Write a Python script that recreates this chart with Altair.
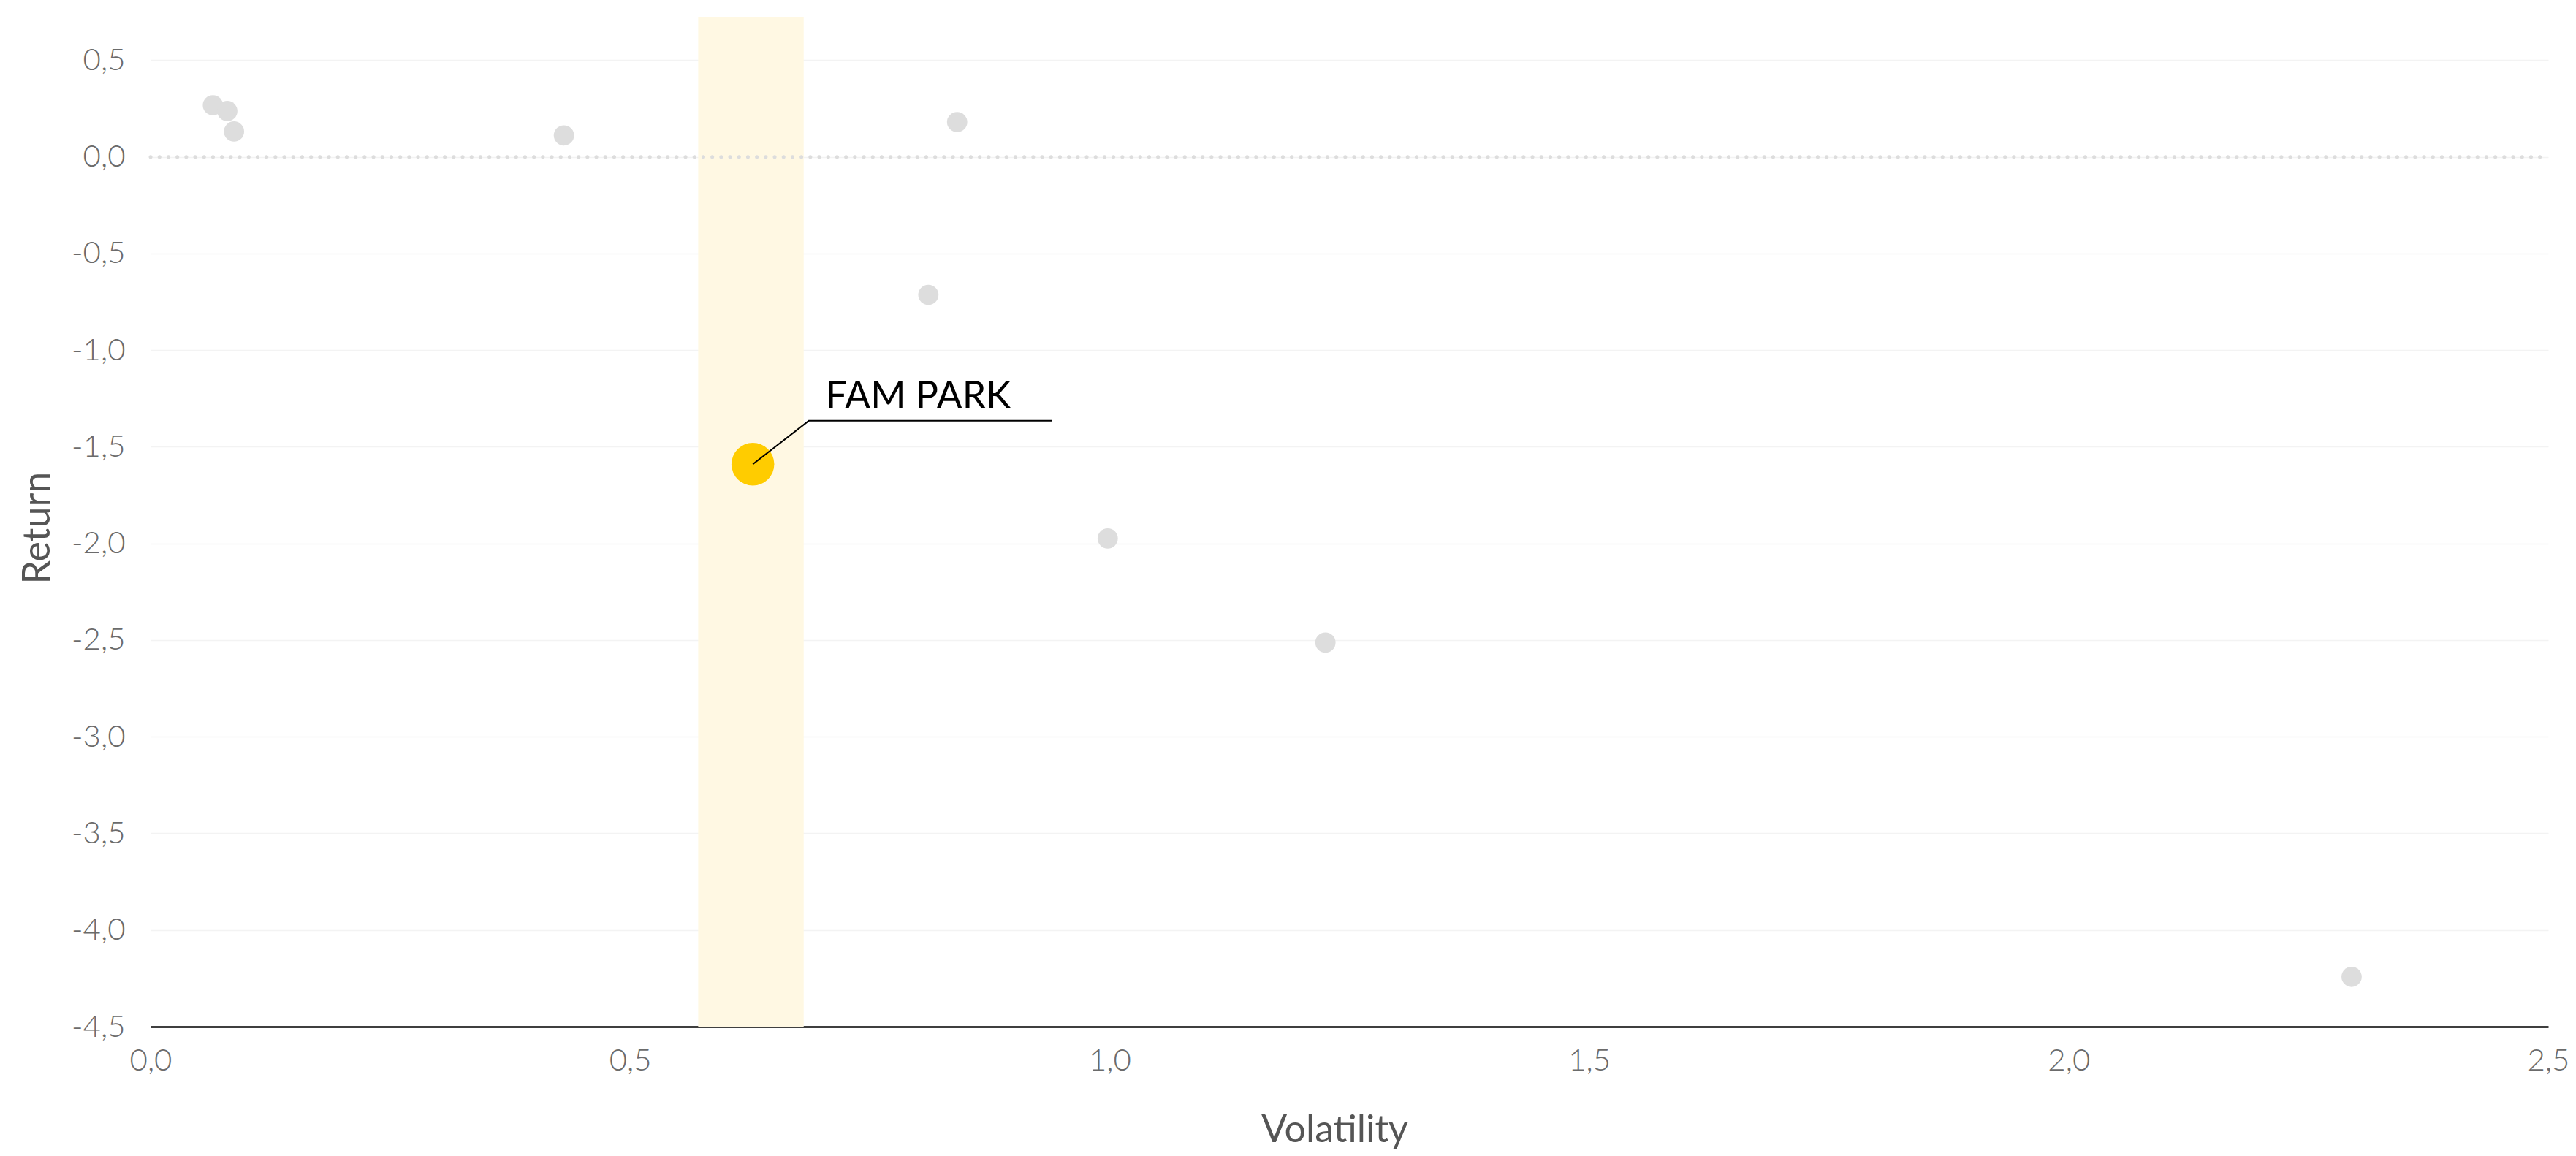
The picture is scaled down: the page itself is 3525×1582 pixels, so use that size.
import altair as alt
import pandas as pd

# Peer funds (grey points)
peer_volatility = [0.065, 0.080, 0.087, 0.431, 0.811, 0.841, 0.998, 1.225, 2.295]
peer_return = [0.267, 0.237, 0.131, 0.111, -0.714, 0.180, -1.974, -2.513, -4.242]

# Highlighted fund
fund_name = ["FAM PARK"]
fund_volatility = [0.628]
fund_return = [-1.59]

# Highlight band on volatility axis
band_start = [0.571]
band_end = [0.681]

# Axis settings
x_ticks = [0.0, 0.5, 1.0, 1.5, 2.0, 2.5]
y_ticks = [-4.5, -4.0, -3.5, -3.0, -2.5, -2.0, -1.5, -1.0, -0.5, 0.0, 0.5]
x_domain = [0.0, 2.5]
y_domain = [-4.5, 0.7245]

# Annotation leader line (data coordinates) and label anchor
leader_x = [0.628, 0.6863, 0.940]
leader_y = [-1.59, -1.3655, -1.3655]
label_x = [0.7038]
label_y = [-1.302]

W, H = 3281, 1382
FONT = "Lato"
label_expr = "replace(replace(format(datum.value, '.1f'), '.', ','), '\u2212', '-')"

peers = pd.DataFrame({"Volatility": peer_volatility, "Return": peer_return})
fund = pd.DataFrame({"name": fund_name, "Volatility": fund_volatility, "Return": fund_return})
band = pd.DataFrame({"x": band_start, "x2": band_end, "y": [y_domain[0]], "y2": [y_domain[1]]})
zero = pd.DataFrame({"x": [x_domain[0]], "x2": [x_domain[1]], "y": [0.0]})
leader = pd.DataFrame({"x": leader_x, "y": leader_y, "o": list(range(len(leader_x)))})
label = pd.DataFrame({"x": label_x, "y": label_y, "text": fund_name})

xscale = alt.Scale(domain=x_domain, nice=False, zero=False)
yscale = alt.Scale(domain=y_domain, nice=False, zero=False)

x_axis = alt.Axis(
    values=x_ticks, labelExpr=label_expr, grid=False, ticks=False,
    domainColor="#000000", domainWidth=2.5, labelFontSize=42, labelColor="#6b6b6b",
    labelFont=FONT, labelFontWeight=300, labelPadding=59, labelBaseline="alphabetic",
    labelOverlap=False, labelFlush=False,
    title="Volatility", titleFont=FONT, titleFontSize=52, titleFontWeight=400,
    titleColor="#555555", titleX=1620, titleY=157, titleBaseline="alphabetic",
    titleAlign="center",
)
y_axis = alt.Axis(
    values=y_ticks, labelExpr=label_expr, grid=True, gridColor="#f3f3f3", gridWidth=1.5,
    domain=False, ticks=False, labelFontSize=42, labelColor="#6b6b6b",
    labelFont=FONT, labelFontWeight=300, labelPadding=35, labelBaseline="middle",
    labelOverlap=False,
    title="Return", titleFont=FONT, titleFontSize=52, titleFontWeight=400,
    titleColor="#555555", titleX=-155, titleY=699, titleAngle=-90,
    titleBaseline="middle", titleAlign="center",
)

band_layer = alt.Chart(band).mark_rect(color="#fff8e3").encode(
    x=alt.X("x:Q", scale=xscale, axis=x_axis),
    x2="x2:Q",
    y=alt.Y("y:Q", scale=yscale, axis=y_axis),
    y2="y2:Q",
)

zero_layer = alt.Chart(zero).mark_rule(
    color="#dddddd", strokeWidth=5, strokeDash=[0.1, 12.1], strokeCap="round"
).encode(x="x:Q", x2="x2:Q", y="y:Q")

peer_layer = alt.Chart(peers).mark_circle(color="#dddddd", opacity=1, size=770).encode(
    x="Volatility:Q", y="Return:Q"
)

fund_layer = alt.Chart(fund).mark_circle(color="#ffcc00", opacity=1, size=3420).encode(
    x="Volatility:Q", y="Return:Q"
)

leader_layer = alt.Chart(leader).mark_line(color="black", strokeWidth=2).encode(
    x="x:Q", y="y:Q", order="o:Q"
)

label_layer = alt.Chart(label).mark_text(
    align="left", baseline="alphabetic", fontSize=52, font=FONT, color="black"
).encode(x="x:Q", y="y:Q", text="text:N")

chart = alt.layer(
    band_layer, zero_layer, peer_layer, fund_layer, leader_layer, label_layer
).properties(
    width=W, height=H,
    autosize=alt.AutoSizeParams(type="none"),
    padding={"left": 198, "top": 15, "right": 30, "bottom": 169},
).configure_view(strokeWidth=0)

chart.save("out.html", embed_options={"renderer": "svg", "actions": False})
